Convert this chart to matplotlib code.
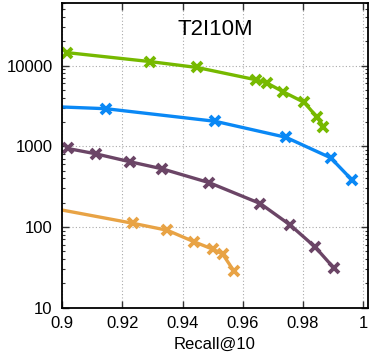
import matplotlib
matplotlib.use("Agg")
import matplotlib.pyplot as plt
from matplotlib.ticker import LogLocator, FixedLocator, FixedFormatter

plt.rcParams['font.family'] = ['Liberation Sans', 'DejaVu Sans']

# data; first point of blue/orange lies just left of the view
green_x = [0.9015, 0.9290, 0.9448, 0.9644, 0.9680, 0.9734, 0.9804, 0.9846, 0.9868]
green_y = [14450, 11200, 9450, 6650, 6070, 4730, 3490, 2305, 1740]

blue_x = [0.880, 0.9145, 0.9508, 0.9743, 0.9892, 0.9964]
blue_y = [3275, 2917, 2037, 1291, 719, 378]

purple_x = [0.9018, 0.9111, 0.9226, 0.9331, 0.9489, 0.9658, 0.9757, 0.9840, 0.9903]
purple_y = [938, 806, 641, 526, 353, 195, 106, 56.6, 30.9]

orange_x = [0.890, 0.9235, 0.9349, 0.9439, 0.9500, 0.9533, 0.9570]
orange_y = [190, 111, 91, 65.3, 53.1, 46.1, 28.6]

xticks = [0.9, 0.92, 0.94, 0.96, 0.98, 1.0]
xticklabels = ["0.9", "0.92", "0.94", "0.96", "0.98", "1"]
yticks = [10, 100, 1000, 10000]
yticklabels = ["10", "100", "1000", "10000"]
title = "T2I10M"
xlabel = "Recall@10"

fig = plt.figure(figsize=(3.70, 3.58), dpi=100)
ax = fig.add_axes([0.1684, 0.1405, 0.8254, 0.852])

series = [
    (green_x, green_y, '#76b900'),
    (blue_x, blue_y, '#0a88f5'),
    (purple_x, purple_y, '#6b4566'),
    (orange_x, orange_y, '#e8a345'),
]
for xs, ys, c in series:
    ax.plot(xs, ys, color=c, lw=2.4, marker='x', markersize=7,
            markeredgewidth=2.8, solid_capstyle='butt')

ax.set_yscale('log')
ax.set_xlim(0.9, 1.0015)
ax.set_ylim(10, 60000)

ax.xaxis.set_major_locator(FixedLocator(xticks))
ax.xaxis.set_major_formatter(FixedFormatter(xticklabels))
ax.yaxis.set_major_locator(FixedLocator(yticks))
ax.yaxis.set_major_formatter(FixedFormatter(yticklabels))
ax.yaxis.set_minor_locator(LogLocator(base=10, subs=range(2, 10)))
ax.yaxis.set_minor_formatter(plt.NullFormatter())

ax.tick_params(which='both', direction='in', top=True, right=True, labelsize=12,
               color='#333333')
ax.tick_params(which='major', length=5, width=1.0, pad=7)
ax.tick_params(which='minor', length=2.5, width=0.8)
ax.tick_params(axis='x', pad=6)

ax.grid(True, which='major', linestyle=(0, (1, 2)), color='#aaaaaa', lw=0.8)
for s in ax.spines.values():
    s.set_linewidth(1.3)

ax.text(0.5, 0.895, title, transform=ax.transAxes, fontsize=16,
        ha='center', va='baseline')
ax.set_xlabel(xlabel, fontsize=12, labelpad=4)

fig.savefig("out.png", dpi=100)
